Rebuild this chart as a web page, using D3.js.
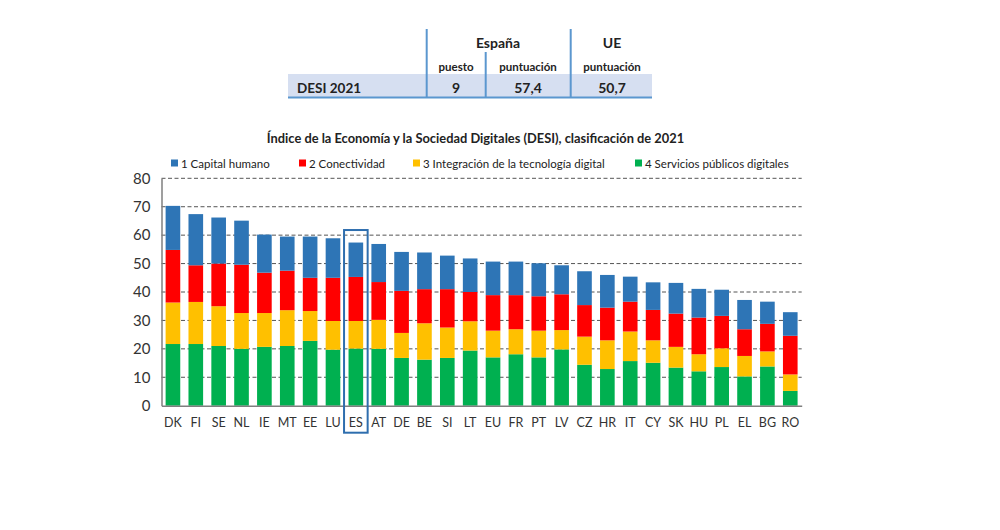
<!DOCTYPE html>
<html><head><meta charset="utf-8">
<script src="https://cdn.jsdelivr.net/npm/d3@7"></script>
<style>html,body{margin:0;padding:0;background:#fff}svg{display:block}text{font-family:Lato,"Open Sans",sans-serif;fill:#222}</style>
</head><body><svg id="c" width="1000" height="530"></svg>
<script>
const countries=["DK","FI","SE","NL","IE","MT","EE","LU","ES","AT","DE","BE","SI","LT","EU","FR","PT","LV","CZ","HR","IT","CY","SK","HU","PL","EL","BG","RO"];
const capitalHumano=[15.5,18.0,16.2,15.5,13.4,12.0,14.5,13.9,12.1,13.4,13.7,12.9,11.8,11.8,11.8,11.8,11.6,10.2,11.9,11.5,8.8,9.7,10.8,10.1,9.2,10.3,7.8,8.3];
const conectividad=[18.5,12.9,15.0,17.0,14.2,13.9,11.7,15.2,15.5,13.3,14.8,12.0,13.5,10.3,12.5,12.0,12.1,12.6,11.1,11.5,10.5,10.7,11.7,12.9,11.4,9.4,9.7,13.6];
const integracion=[14.6,14.8,14.0,12.6,11.9,12.6,10.5,10.1,9.7,10.2,8.8,12.8,10.7,10.3,9.4,8.8,9.4,6.8,9.9,10.1,10.4,7.9,7.3,6.0,6.6,7.2,5.3,5.8];
const servicios=[21.7,21.7,21.0,20.0,20.7,21.0,22.8,19.7,20.1,20.0,16.8,16.2,16.8,19.4,17.0,18.1,17.0,19.8,14.4,12.9,15.7,15.1,13.4,12.1,13.6,10.3,13.8,5.2];
const seriesNames=["1 Capital humano","2 Conectividad","3 Integración de la tecnología digital","4 Servicios públicos digitales"];
const seriesColors=["#2e75b6","#ff0000","#ffc000","#00b050"];
const yTicks=[0,10,20,30,40,50,60,70,80];
const chartTitle="Índice de la Economía y la Sociedad Digitales (DESI), clasificación de 2021";
const highlighted="ES";
const tableRow=["DESI 2021","9","57,4","50,7"];

const svg=d3.select("#c");
const L=161.5,R=801.7,T=178.3,B=405.7;
const x=d3.scaleBand().domain(countries).range([L,R]).paddingInner(0.36).paddingOuter(0.18);
const y=d3.scaleLinear().domain([0,80]).range([B,T]);

// table
const line="#5b97cf";
svg.append("rect").attr("x",288).attr("y",74).attr("width",364).attr("height",23).attr("fill","#d6dff1");
svg.append("line").attr("x1",288).attr("x2",652).attr("y1",97.5).attr("y2",97.5).attr("stroke",line).attr("stroke-width",2);
[[426.7,29],[485.7,52],[570.7,29]].forEach(([a,b])=>svg.append("line").attr("x1",a).attr("x2",a).attr("y1",b).attr("y2",98).attr("stroke",line).attr("stroke-width",2));
const tt=(s,xp,yp,size,anchor="middle")=>svg.append("text").text(s).attr("x",xp).attr("y",yp).attr("font-size",size).attr("font-weight",700).attr("text-anchor",anchor);
tt("España",498,48,14);tt("UE",612,48,14);
tt("puesto",456,71,11.5);tt("puntuación",528,71,11.5);tt("puntuación",612,71,11.5);
tt(tableRow[0],297,93,13.5,"start");tt(tableRow[1],456,93,14);tt(tableRow[2],528,93,14);tt(tableRow[3],612,93,14);

// title
tt(chartTitle,475.5,142.5,12.85);

// legend
[[171,181],[299,309],[413,423],[635,645]].forEach(([a,b],i)=>{
  svg.append("rect").attr("x",a).attr("y",159.5).attr("width",7).attr("height",7).attr("fill",seriesColors[i]);
  svg.append("text").text(seriesNames[i]).attr("x",b).attr("y",167.5).attr("font-size",11.5).attr("fill","#333");
});

// grid
const g=svg.append("g");
g.selectAll("line.grid").data(yTicks.filter(d=>d>0)).join("line").attr("class","grid")
 .attr("x1",L).attr("x2",R).attr("y1",d=>y(d)).attr("y2",d=>y(d))
 .attr("stroke","#555").attr("stroke-width",1).attr("stroke-dasharray","4 2.5");

// bars
const table=countries.map((c,i)=>({c,s:servicios[i],n:integracion[i],k:conectividad[i],h:capitalHumano[i]}));
const stack=d3.stack().keys(["s","n","k","h"])(table);
const colorByKey={s:seriesColors[3],n:seriesColors[2],k:seriesColors[1],h:seriesColors[0]};
g.selectAll("g.s").data(stack).join("g").attr("class","s").attr("fill",d=>colorByKey[d.key])
 .selectAll("rect").data(d=>d).join("rect")
 .attr("x",d=>x(d.data.c)).attr("width",x.bandwidth())
 .attr("y",d=>y(d[1])).attr("height",d=>y(d[0])-y(d[1]));

// axes
const ay=svg.append("g").attr("transform",`translate(${L},0)`).call(d3.axisLeft(y).tickValues(yTicks).tickSize(0).tickPadding(11));
ay.select(".domain").attr("stroke","#7f7f7f").attr("stroke-width",1.5);
ay.selectAll("text").attr("font-size",15).attr("style","font-family:Lato,sans-serif;fill:#333");
const ax=svg.append("g").attr("transform",`translate(0,${B})`).call(d3.axisBottom(x).tickSize(0).tickPadding(12.5));
ax.select(".domain").attr("stroke","#7f7f7f").attr("stroke-width",1.5);
ax.selectAll("text").attr("font-size",12.5).attr("style","font-family:Lato,sans-serif;fill:#333");

// highlight box
svg.append("rect").attr("x",x(highlighted)+x.bandwidth()/2-11.8).attr("width",23.6)
 .attr("y",y(61.8)).attr("height",B+27-y(61.8))
 .attr("fill","none").attr("stroke","#2e6eae").attr("stroke-width",2);
</script></body></html>
